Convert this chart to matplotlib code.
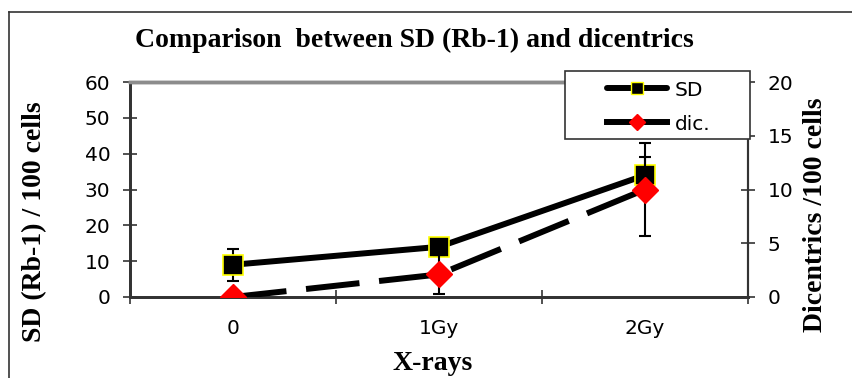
import matplotlib
matplotlib.use("Agg")
import matplotlib.pyplot as plt
from matplotlib.lines import Line2D
from matplotlib.patches import Rectangle
import numpy as np

categories = ["0", "1Gy", "2Gy"]
sd_values = [9, 14, 34]
sd_errors = [4.5, 2, 5]
dic_values = [0, 2.1, 10]
dic_errors = [0, 1.8, 4.3]
left_ticks = [0, 10, 20, 30, 40, 50, 60]
right_ticks = [0, 5, 10, 15, 20]

serif = ["Liberation Serif", "DejaVu Serif"]
sans = ["DejaVu Sans"]

fig = plt.figure(figsize=(8.52, 3.78), dpi=100)
ax = fig.add_axes([130/852, 1-297/378, (748-130)/852, (297-82)/378])
ax2 = ax.twinx()

x = np.arange(len(categories))

# SD series (left axis)
ax.errorbar(x, sd_values, yerr=sd_errors, fmt='none', ecolor='black',
            elinewidth=1.5, capsize=4, capthick=1.5, zorder=2)
ax.plot(x, sd_values, color='black', lw=4.3, solid_capstyle='butt',
        marker='s', markersize=14, markerfacecolor='black',
        markeredgecolor='#FFFF00', markeredgewidth=1.2, zorder=3)

# dic series (right axis)
ax2.errorbar(x, dic_values, yerr=dic_errors, fmt='none', ecolor='black',
             elinewidth=1.5, capsize=4, capthick=1.5, zorder=2)
ax2.plot(x, dic_values, color='black', lw=4.3, dashes=(9, 3.3),
         marker='D', markersize=13, markerfacecolor='#FF0000',
         markeredgecolor='#FF0000', zorder=3)

ax.set_xlim(-0.5, 2.5)
ax.set_ylim(0, 60)
ax2.set_ylim(0, 20)
ax.set_yticks(left_ticks)
ax2.set_yticks(right_ticks)

ax.set_xticks([-0.5, 0.5, 1.5, 2.5])
ax.set_xticklabels([])
ax.set_xticks(x, minor=True)
ax.set_xticklabels(categories, minor=True, fontsize=14.5, family=sans)
ax.tick_params(axis='x', which='major', direction='inout', length=10, width=1.2, color='#333333')
ax.tick_params(axis='x', which='minor', length=0, pad=16)
ax.tick_params(axis='y', direction='inout', length=10, width=1.2, color='#333333', labelsize=14.5, pad=9)
ax2.tick_params(axis='y', direction='inout', length=10, width=1.2, color='#333333', labelsize=14.5, pad=9)
for lab in ax.get_yticklabels() + ax2.get_yticklabels():
    lab.set_family(sans)

for a in (ax, ax2):
    a.spines['top'].set_color('#8c8c8c')
    a.spines['top'].set_linewidth(2.5)
    a.spines['left'].set_color('#333333')
    a.spines['left'].set_linewidth(2)
    a.spines['bottom'].set_color('#333333')
    a.spines['bottom'].set_linewidth(2)
    a.spines['right'].set_color('#333333')
    a.spines['right'].set_linewidth(1.5)

ax.set_ylabel("SD (Rb-1) / 100 cells", family=serif, fontweight='bold', fontsize=20)
ax.yaxis.set_label_coords((35-130)/618, (297-222)/215)
ax2.set_ylabel("Dicentrics /100 cells", family=serif, fontweight='bold', fontsize=20)
ax2.yaxis.set_label_coords((816-130)/618, (297-215)/215)
ax.yaxis.label.set_va('center')
ax2.yaxis.label.set_va('center')
ax.set_xlabel("X-rays", family=serif, fontweight='bold', fontsize=20)
ax.xaxis.set_label_coords((433-130)/618, (297-364)/215)
ax.xaxis.label.set_va('center')

fig.text(414/852, 1-40/378, "Comparison  between SD (Rb-1) and dicentrics",
         family=serif, fontweight='bold', fontsize=20, ha='center', va='center')

# legend frame
fig.add_artist(Rectangle((565/852, 1-139/378), (750-565)/852, (139-71)/378,
                         transform=fig.transFigure, facecolor='white',
                         edgecolor='#333333', lw=1.2, zorder=5))
# legend entries
h_sd = Line2D([], [], color='black', lw=4.3, solid_capstyle='round', marker='s',
              markersize=8, markerfacecolor='black', markeredgecolor='#FFFF00',
              markeredgewidth=1)
h_dic = Line2D([], [], color='black', lw=4.3, marker='D', markersize=8,
               markerfacecolor='#FF0000', markeredgecolor='#FF0000')
leg = fig.legend([h_sd, h_dic], ["SD", "dic."], loc='upper left',
                 bbox_to_anchor=(607/852, 1-80/378), bbox_transform=fig.transFigure,
                 prop={'family': sans, 'size': 14.5}, frameon=False,
                 handlelength=3.0, handleheight=1.0,
                 borderpad=0, labelspacing=0.72, handletextpad=0.35,
                 borderaxespad=0)
leg.set_zorder(6)

# figure border (left and top)
fig.add_artist(Line2D([8.5/852, 8.5/852], [0, 1-11.5/378], color='#333333', lw=1.2,
                      transform=fig.transFigure))
fig.add_artist(Line2D([8.5/852, 1], [1-11.5/378, 1-11.5/378], color='#333333', lw=1.2,
                      transform=fig.transFigure))

fig.savefig("out.png", dpi=100)
